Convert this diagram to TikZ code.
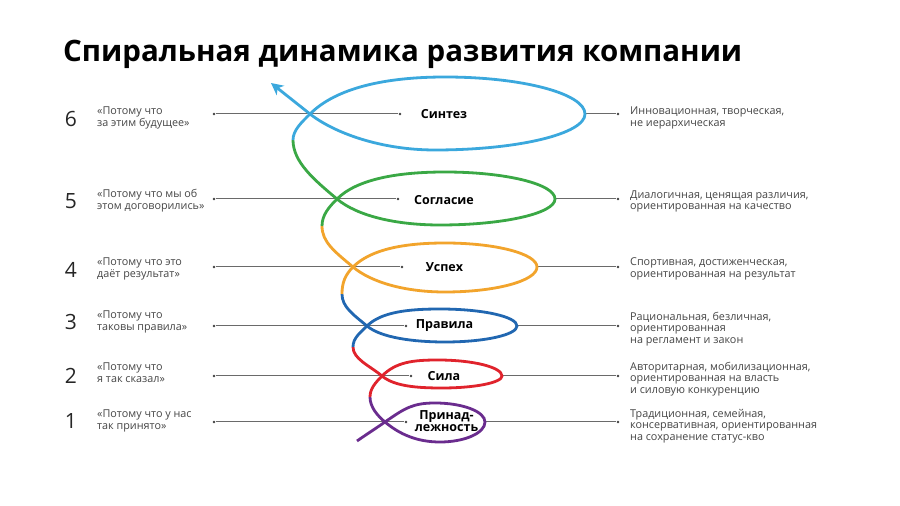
\documentclass[tikz,border=0pt]{standalone}
\usepackage{fontspec}
\setmainfont{Open Sans}
\usetikzlibrary{arrows.meta}
\definecolor{cBlue}{HTML}{3BA8DD}
\definecolor{cGreen}{HTML}{3AA845}
\definecolor{cOrange}{HTML}{F2A42C}
\definecolor{cDBlue}{HTML}{2167B1}
\definecolor{cRed}{HTML}{E0232C}
\definecolor{cPurple}{HTML}{6A2C8E}
\definecolor{lineGray}{HTML}{6A6A6A}
\definecolor{txtGray}{HTML}{454545}
\begin{document}
\begin{tikzpicture}[x=1pt,y=1pt,
  spir/.style={line width=2.8pt},
  hline/.style={draw=lineGray,line width=1pt},
  dot/.style={circle,fill=black!75,inner sep=0pt,minimum size=2.8pt},
  num/.style={font={\fontsize{21}{24}\selectfont},text=black!85,inner sep=0pt},
  quote/.style={font={\fontsize{10.8}{12}\selectfont},text=txtGray,align=left,anchor=west,inner sep=0pt},
  desc/.style={font={\fontsize{10.8}{11.3}\selectfont},text=txtGray,align=left,anchor=west,inner sep=0pt},
  lab/.style={font={\bfseries\fontsize{12.5}{13}\selectfont},text=black,align=center,inner sep=0pt}
]
\useasboundingbox (0,0) rectangle (900,506);
\fill[white] (0,0) rectangle (900,506);

% title
\node[anchor=base west,inner sep=0pt,font={\bfseries\fontsize{29.5}{32}\selectfont}] (title) at (63,444) {Спиральная динамика развития компании};

% horizontal guide lines
\foreach \n/\Y/\xl/\xr in {6/392/400/585, 5/307/398/555, 4/239/402/537, 3/180/406/517, 2/130/411/502, 1/84/406/485}{
  \node[dot] (la\n) at (214,\Y) {};
  \node[dot] (lb\n) at (\xl,\Y) {};
  \coordinate (ra\n) at (\xr,\Y);
  \node[dot] (rb\n) at (618,\Y) {};
  \draw[hline] (la\n) -- (lb\n);
  \draw[hline] (ra\n) -- (rb\n);
}

% spiral
\draw[spir,cPurple] (357,65) .. controls +(10,7) and +(-10,-7) .. (385,84)
  .. controls +(20,14) and +(-22,0) .. (435,103)
  .. controls +(27.6,0) and +(0,10.5) .. (485,84)
  .. controls +(0,-11) and +(24.8,0) .. (440,64)
  .. controls +(-22,0) and +(15.3,-12.9) .. (385,84)
  .. controls +(-7.7,6.4) and +(0,-10) .. (370,109);
\draw[spir,cRed] (370,109) .. controls +(0,8) and +(-7,-7) .. (382,130)
  .. controls +(14,14) and +(-25,0) .. (438,146)
  .. controls +(35,0) and +(0,8.8) .. (502,130)
  .. controls +(0,-6.6) and +(33,0) .. (442,118)
  .. controls +(-25,0) and +(12.3,-10.3) .. (382,130)
  .. controls +(-12.3,10.3) and +(0,-12) .. (353,159);
\draw[spir,cDBlue] (353,159) .. controls +(0,9) and +(-7,-7) .. (367,180)
  .. controls +(14,14) and +(-32,0) .. (440,197)
  .. controls +(42.5,0) and +(0,9.4) .. (517,180)
  .. controls +(0,-8.8) and +(39.7,0) .. (445,164)
  .. controls +(-32,0) and +(13.8,-11.6) .. (367,180)
  .. controls +(-13.8,11.6) and +(0,-13) .. (342,212);
\draw[spir,cOrange] (342,212) .. controls +(0,11) and +(-8,-8) .. (353,239)
  .. controls +(18,18) and +(-40,0) .. (445,263)
  .. controls +(50.8,0) and +(0,13.2) .. (537,239)
  .. controls +(0,-13.8) and +(50.8,0) .. (445,214)
  .. controls +(-40,0) and +(18.4,-15.4) .. (353,239)
  .. controls +(-18.4,15.4) and +(0,-16) .. (322,280);
\draw[spir,cGreen] (322,280) .. controls +(0,11) and +(-8,-8) .. (337,307)
  .. controls +(20,20) and +(-47,0) .. (445,334)
  .. controls +(60.7,0) and +(0,14.9) .. (555,307)
  .. controls +(0,-14.4) and +(63.5,0) .. (440,281)
  .. controls +(-45,0) and +(19.9,-16.7) .. (337,307)
  .. controls +(-23,19.3) and +(0,-22) .. (293,366);
\draw[spir,cBlue,-{Stealth[length=12pt,width=12pt,inset=3.5pt]}] (293,366) .. controls +(0,10) and +(-8,-8) .. (310,392)
  .. controls +(26,26) and +(-60,0) .. (445,429)
  .. controls +(77.3,0) and +(0,20.4) .. (585,392)
  .. controls +(0,-19.9) and +(82.8,0) .. (435,356)
  .. controls +(-55,0) and +(23.6,-18.5) .. (310,392)
  -- (271,423);

% labels on the spiral
\node[lab] (s6) at (444,391.5) {Синтез};
\node[lab] (s5) at (444,306) {Согласие};
\node[lab] (s4) at (444.5,238.5) {Успех};
\node[lab] (s3) at (444.5,180) {Правила};
\node[lab] (s2) at (444,129.5) {Сила};
\node[lab,font={\bfseries\fontsize{12.5}{12}\selectfont}] (s1) at (446.5,85) {Принад-\\лежность};

% numbers
\node[num] (n6) at (71,386.5) {6};
\node[num] (n5) at (71,305) {5};
\node[num] (n4) at (71,236.5) {4};
\node[num] (n3) at (71,184) {3};
\node[num] (n2) at (71,130) {2};
\node[num] (n1) at (71,85) {1};

% left quotes
\node[quote] (q6) at (97,388) {«Потому что\\за этим будущее»};
\node[quote] (q5) at (97,305) {«Потому что мы об\\этом договорились»};
\node[quote] (q4) at (97,237.5) {«Потому что это\\даёт результат»};
\node[quote] (q3) at (97,184.5) {«Потому что\\таковы правила»};
\node[quote] (q2) at (97,133) {«Потому что\\я так сказал»};
\node[quote] (q1) at (97,85) {«Потому что у нас\\так принято»};

% right descriptions
\node[desc] (d6) at (630,388) {Инновационная, творческая,\\не иерархическая};
\node[desc] (d5) at (630,304.5) {Диалогичная, ценящая различия,\\ориентированная на качество};
\node[desc] (d4) at (630,237) {Спортивная, достиженческая,\\ориентированная на результат};
\node[desc] (d3) at (630,177) {Рациональная, безличная,\\ориентированная\\на регламент и закон};
\node[desc] (d2) at (630,127) {Авторитарная, мобилизационная,\\ориентированная на власть\\и силовую конкуренцию};
\node[desc] (d1) at (630,80) {Традиционная, семейная,\\консервативная, ориентированная\\на сохранение статус-кво};
\end{tikzpicture}
\end{document}
